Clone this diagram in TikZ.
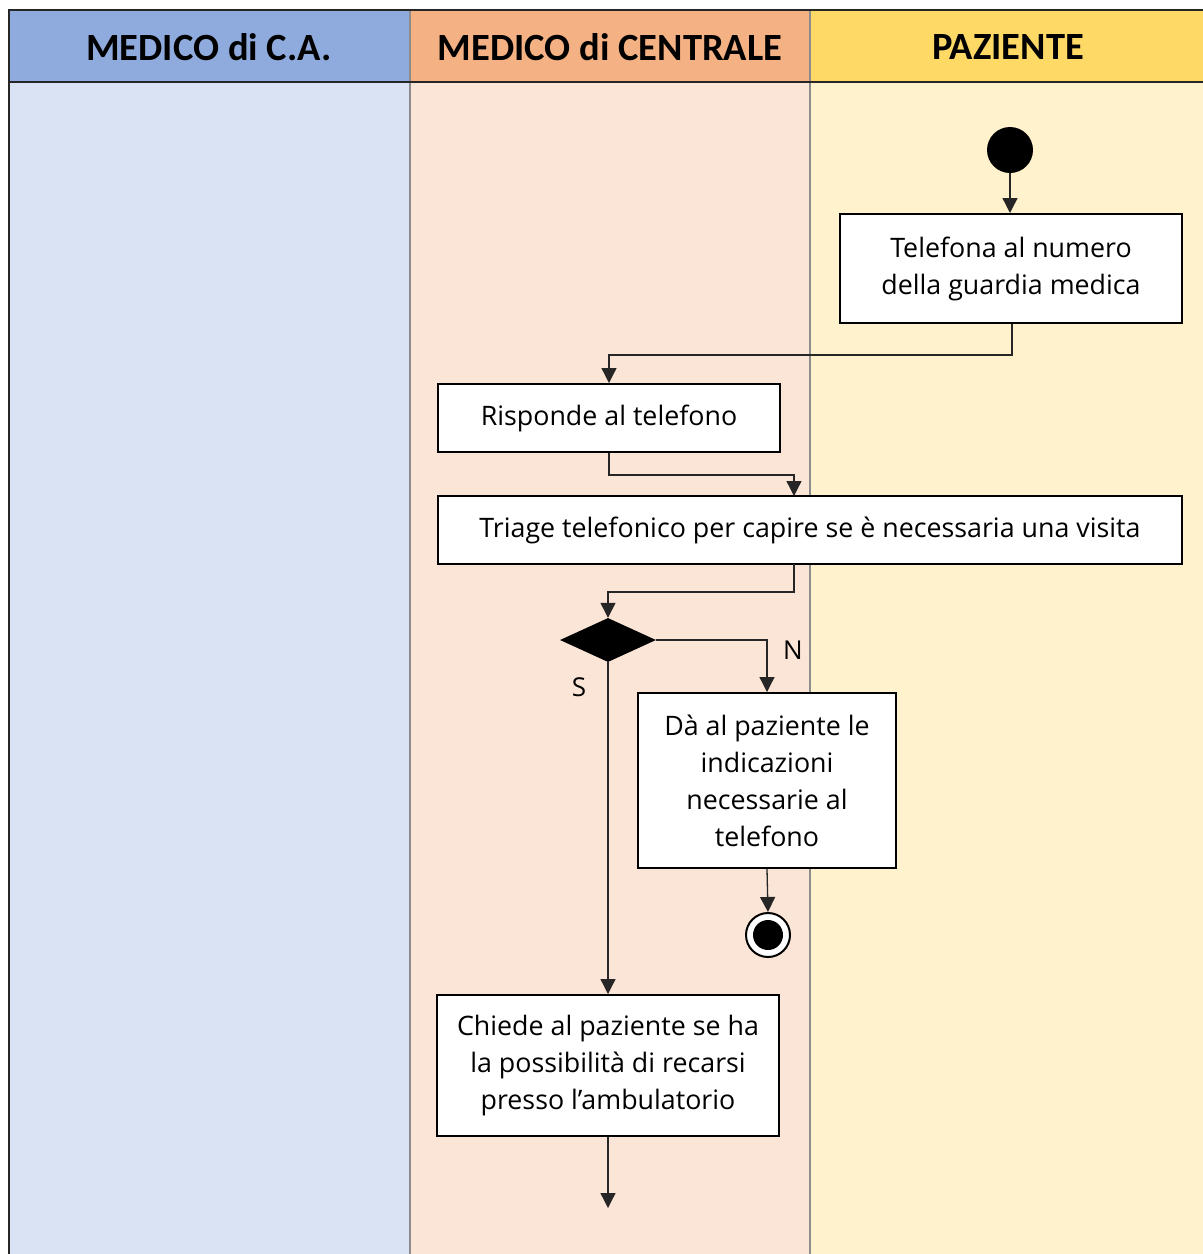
\documentclass[tikz,border=0pt]{standalone}
\usepackage{fontspec}
\setmainfont{Open Sans}
\newfontfamily\headfont{Carlito}
\usetikzlibrary{arrows.meta,shapes.geometric}
\definecolor{hdrA}{HTML}{8FAADC}
\definecolor{hdrB}{HTML}{F4B183}
\definecolor{hdrC}{HTML}{FFD966}
\definecolor{laneA}{HTML}{DAE3F3}
\definecolor{laneB}{HTML}{FBE5D6}
\definecolor{laneC}{HTML}{FFF2CC}
\definecolor{divider}{HTML}{8C8C8C}
\begin{document}
\begin{tikzpicture}[x=1pt,y=-1pt,
  hdr/.style={font=\headfont\fontsize{38.5}{44}\selectfont\bfseries},
  actbox/.style={draw=black,line width=2pt,fill=white,rectangle,align=center,
    font=\fontsize{26.8}{37}\selectfont,inner sep=0pt},
  flow/.style={draw=black!85,line width=1.3pt,-{Triangle[width=15pt,length=15pt]}},
  lbl/.style={font=\fontsize{26}{30}\selectfont,inner sep=0pt}]
\useasboundingbox (0,0) rectangle (1203,1254);
% swimlane bodies
\fill[laneA] (9,82) rectangle (410,1254);
\fill[laneB] (410,82) rectangle (810,1254);
\fill[laneC] (810,82) rectangle (1203,1254);
% swimlane headers
\fill[hdrA] (9,10) rectangle (410,82);
\fill[hdrB] (410,10) rectangle (810,82);
\fill[hdrC] (810,10) rectangle (1203,82);
\draw[divider,line width=2pt] (410,10) -- (410,1254);
\draw[divider,line width=2pt] (810,10) -- (810,1254);
\draw[black!85,line width=2.5pt] (9,82) -- (1203,82);
\draw[black!85,line width=2.5pt] (9,1254) -- (9,10) -- (1203,10);
\node[hdr] (hA) at (209,47) {MEDICO di C.A.};
\node[hdr] (hB) at (610,47) {MEDICO di CENTRALE};
\node[hdr] (hC) at (1008,47) {PAZIENTE};

% activity nodes
\node[circle,fill=black,minimum size=46pt,inner sep=0pt] (start) at (1010,150) {};
\node[actbox,minimum width=342pt,minimum height=109pt] (call) at (1011,268.5)
  {Telefona al numero\\della guardia medica};
\node[actbox,minimum width=342pt,minimum height=68pt] (answer) at (609,418)
  {Risponde al telefono};
\node[actbox,minimum width=744pt,minimum height=68pt] (triage) at (810,530)
  {Triage telefonico per capire se è necessaria una visita};
\node[diamond,fill=black,minimum width=96pt,minimum height=44pt,inner sep=0pt,aspect=2.2] (dec) at (608,640) {};
\node[actbox,minimum width=258pt,minimum height=175pt] (advice) at (767,780.5)
  {Dà al paziente le\\indicazioni\\necessarie al\\telefono};
\node[circle,draw=black,line width=2pt,fill=white,minimum size=44pt,inner sep=0pt] (end) at (768,935) {};
\fill[black] (end.center) circle (15pt);
\node[actbox,minimum width=342pt,minimum height=141pt] (ask) at (608,1065.5)
  {Chiede al paziente se ha\\la possibilità di recarsi\\presso l’ambulatorio};
\coordinate (next) at (608,1208);

% connectors
\draw[flow] (start) -- (start |- call.north);
\draw[flow] (call.south) ++(1,0) -- ++(0,31) -| (answer.north);
\draw[flow] (answer.south) -- ++(0,22) -| (794,496);
\draw[flow] (794,564) -- (794,592) -- (608,592) -- (dec.north);
\draw[flow] (dec.east) -| (advice.north);
\draw[flow] (dec.south) -- (ask.north);
\draw[flow] (advice.south) -- (end.north);
\draw[flow] (ask.south) -- (next);

% guard labels
\node[lbl] (lN) at (793,650) {N};
\node[lbl] (lS) at (579,687) {S};
\end{tikzpicture}
\end{document}
